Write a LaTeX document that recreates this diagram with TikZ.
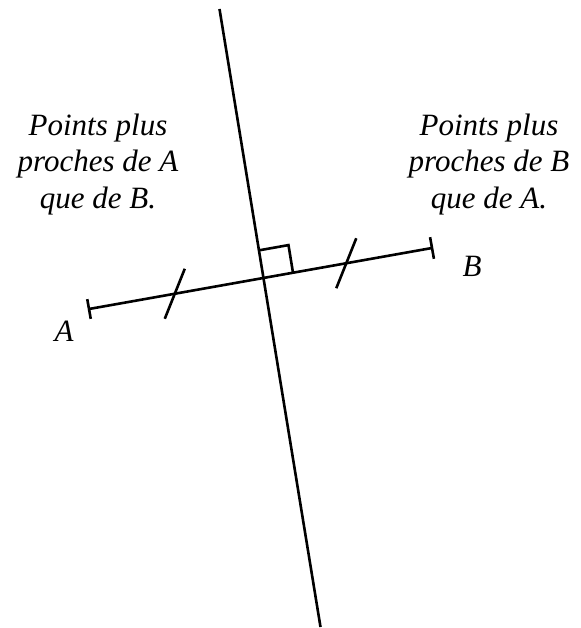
\documentclass[tikz,border=0pt]{standalone}
\usepackage{fontspec}
\setmainfont{Liberation Serif}
\usetikzlibrary{calc}
\begin{document}
\begin{tikzpicture}[x=1pt,y=-1pt,
      trait/.style={line width=2.6pt},
      lbl/.style={font=\fontsize{31}{36.5}\selectfont\itshape,inner sep=0pt},
      zone/.style={lbl,align=center,anchor=north}]
      \useasboundingbox (0,0) rectangle (580,628);
      \coordinate (A) at (89,309);
      \coordinate (B) at (432,248);
      \coordinate (top) at (219.5,9);
      \coordinate (bot) at (320.5,627);
      \coordinate (O) at (intersection of A--B and top--bot);
      % segment, mediatrice
      \draw[trait] (A) -- (B);
      \draw[trait] (top) -- (bot);
      % extremites
      \draw[trait] ($(A)!10pt!90:(B)$) -- ($(A)!10pt!-90:(B)$);
      \draw[trait] ($(B)!11pt!90:(A)$) -- ($(B)!11pt!-90:(A)$);
      % codage des longueurs egales
      \coordinate (q1) at ($(A)!0.25!(B)$);
      \coordinate (q3) at ($(A)!0.75!(B)$);
      \draw[trait] ($(q1)+(-10,25)$) -- ($(q1)+(10,-25)$);
      \draw[trait] ($(q3)+(-10,25)$) -- ($(q3)+(10,-25)$);
      % angle droit
      \coordinate (u) at ($(O)!28pt!(top)$);
      \coordinate (v) at ($(O)!30pt!(B)$);
      \draw[trait] (u) -- ($(u)+(v)-(O)$) -- (v);
      \node[lbl,anchor=base] (la) at (64,341.7) {A};
      \node[lbl,anchor=base] (lb) at (472,276) {B};
      \node[zone] (gauche) at (98,113.5) {Points plus\\proches de A\\que de B.};
      \node[zone] (droite) at (489,113.5) {Points plus\\proches de B\\que de A.};
    \end{tikzpicture}
\end{document}
